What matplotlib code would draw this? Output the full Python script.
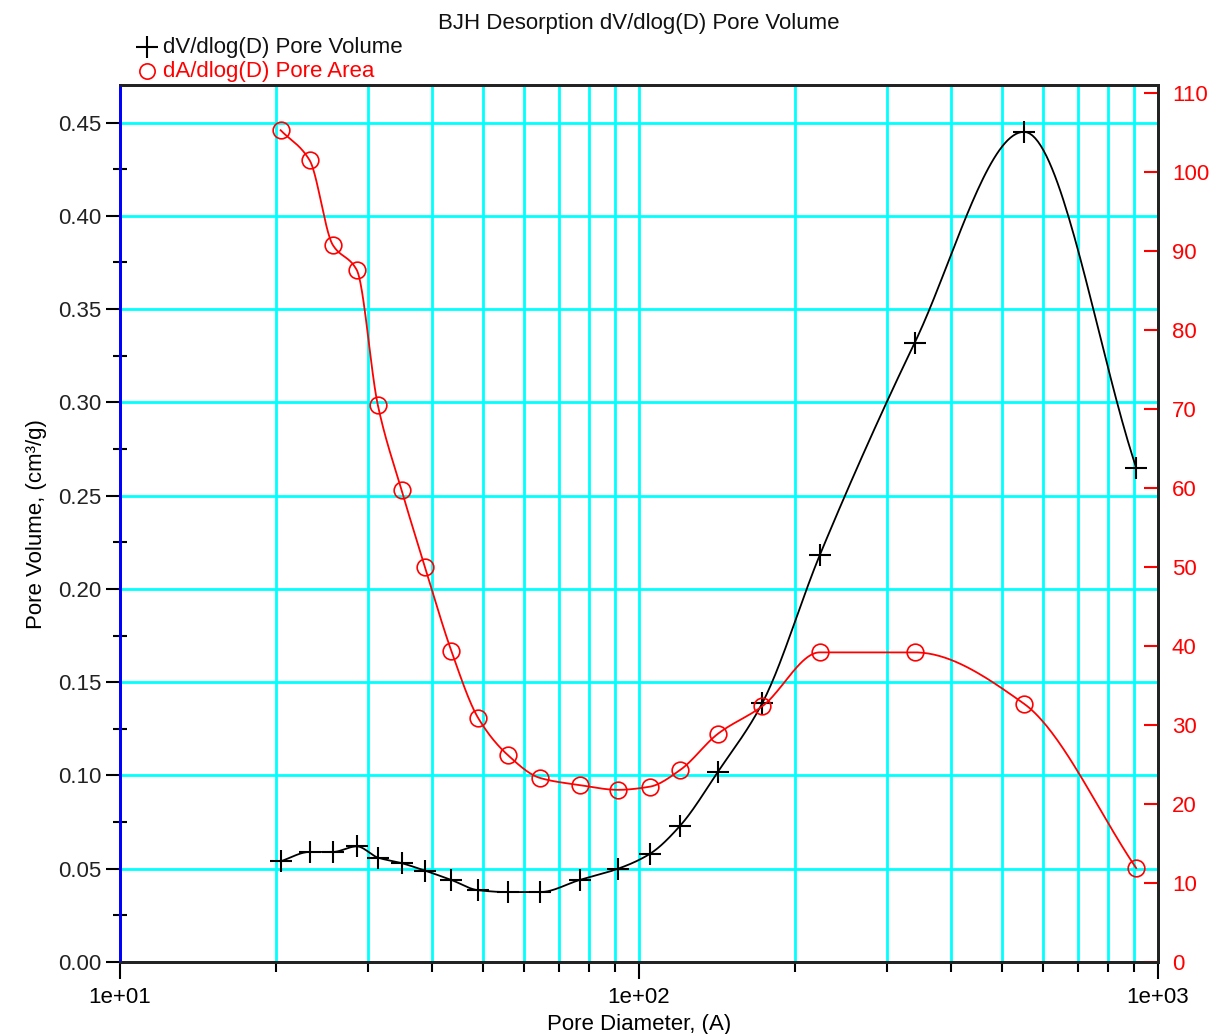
import matplotlib
matplotlib.use("Agg")
import matplotlib.pyplot as plt
import numpy as np
from matplotlib.lines import Line2D
from matplotlib.ticker import FixedLocator, NullFormatter, LogLocator

plt.rcParams["font.family"] = ["Liberation Sans", "DejaVu Sans"]

# pore diameter (A), shared by both series
diameter = [20.4, 23.2, 25.7, 28.6, 31.4, 34.9, 38.7, 43.5, 49.0, 55.9, 64.5,
            76.9, 91.1, 105, 120, 142, 173, 223, 340, 552, 908]

# dV/dlog(D) pore volume (cm3/g), left axis
pore_volume = [0.054, 0.059, 0.059, 0.062, 0.056, 0.053, 0.049, 0.044, 0.0385,
               0.0375, 0.0375, 0.044, 0.050, 0.058, 0.073, 0.102, 0.139, 0.218,
               0.332, 0.445, 0.265]

# dA/dlog(D) pore area, right axis
pore_area = [105.3, 101.5, 90.8, 87.6, 70.5, 59.7, 50.0, 39.4, 30.9, 26.2, 23.3,
             22.4, 21.8, 22.2, 24.3, 28.9, 32.4, 39.2, 39.2, 32.7, 11.9]


def pchip_curve(x, y, n=40):
    """monotone cubic line through the points, in log-x space"""
    lx = np.log10(np.asarray(x, float))
    y = np.asarray(y, float)
    h = np.diff(lx)
    d = np.diff(y) / h
    m = np.zeros_like(y)
    for k in range(1, len(y) - 1):
        if d[k - 1] * d[k] > 0:
            w1 = 2 * h[k] + h[k - 1]
            w2 = h[k] + 2 * h[k - 1]
            m[k] = (w1 + w2) / (w1 / d[k - 1] + w2 / d[k])
    m[0] = d[0]
    m[-1] = d[-1]
    xs, ys = [], []
    for k in range(len(h)):
        t = np.linspace(0, 1, n, endpoint=False)
        h00 = 2 * t**3 - 3 * t**2 + 1
        h10 = t**3 - 2 * t**2 + t
        h01 = -2 * t**3 + 3 * t**2
        h11 = t**3 - t**2
        xs.append(lx[k] + t * h[k])
        ys.append(h00 * y[k] + h10 * h[k] * m[k] + h01 * y[k + 1] + h11 * h[k] * m[k + 1])
    xs.append([lx[-1]])
    ys.append([y[-1]])
    return 10 ** np.concatenate(xs), np.concatenate(ys)


fig = plt.figure(figsize=(12.14, 10.34), dpi=100)
ax = fig.add_axes([0.0988, 0.0696, 0.855, 0.848])
ax2 = ax.twinx()

cyan = "#00ffff"
fs = 16

# 細孔容積 (黒)
cx, cy = pchip_curve(diameter, pore_volume)
ax.plot(cx, cy, color="black", linewidth=1.3, zorder=3)
ax.plot(diameter, pore_volume, linestyle="none", marker="+", markersize=16,
        markeredgewidth=1.5, color="black", zorder=4)

# 細孔面積 (赤)
rx, ry = pchip_curve(diameter, pore_area)
ax2.plot(rx, ry, color="red", linewidth=1.3, zorder=3)
ax2.plot(diameter, pore_area, linestyle="none", marker="o", markersize=12,
         markerfacecolor="none", markeredgecolor="red", markeredgewidth=1.2, zorder=4)

ax.set_xscale("log")
ax.set_xlim(10, 1000)
ax.set_ylim(0, 0.47)
ax2.set_ylim(0, 111)

# grid
ax.xaxis.set_major_locator(FixedLocator([10, 100, 1000]))
ax.xaxis.set_minor_locator(LogLocator(base=10, subs=np.arange(2, 10)))
ax.xaxis.set_minor_formatter(NullFormatter())
ax.set_xticklabels(["1e+01", "1e+02", "1e+03"])
ax.set_yticks(np.arange(0, 0.451, 0.05))
ax.set_yticklabels([f"{v:.2f}" for v in np.arange(0, 0.451, 0.05)])
ax.set_yticks(np.arange(0.025, 0.46, 0.05), minor=True)
ax.grid(True, which="both", axis="x", color=cyan, linewidth=2, zorder=0)
ax.grid(True, which="major", axis="y", color=cyan, linewidth=2, zorder=0)
ax.set_axisbelow(True)

ax.tick_params(axis="x", which="major", direction="out", length=12, width=1.5,
               labelsize=fs, colors="black", pad=6)
ax.tick_params(axis="x", which="minor", direction="out", length=7, width=1.5)
ax.tick_params(axis="y", which="major", direction="out", length=10, width=1.5,
               labelsize=fs, colors="black", labelcolor="#222222")
ax.tick_params(axis="y", which="minor", direction="inout", length=10, width=1.5)
ax.tick_params(top=False)

ax2.set_yticks(np.arange(0, 111, 10))
ax2.tick_params(axis="y", direction="in", length=10, width=1.5, colors="red",
                labelsize=fs, pad=10)

for a in (ax, ax2):
    for s in a.spines.values():
        s.set_linewidth(2)
        s.set_color("#222222")
ax2.spines["left"].set_color("blue")
ax.spines["left"].set_color("blue")

ax.set_xlabel("Pore Diameter, (A)", fontsize=fs, labelpad=4)
ax.set_ylabel("Pore Volume, (cm³/g)", fontsize=fs, labelpad=8)

# タイトルと凡例 (軸の上)
fig.text(0.5265, 1 - 24 / 1034, "BJH Desorption dV/dlog(D) Pore Volume",
         fontsize=fs, ha="center", va="center", color="#111111")
fig.add_artist(Line2D([147 / 1214], [1 - 47 / 1034], marker="+", markersize=16,
                      markeredgewidth=1.5, color="black", linestyle="none"))
fig.add_artist(Line2D([147 / 1214], [1 - 71 / 1034], marker="o", markersize=11,
                      markerfacecolor="none", markeredgecolor="red",
                      markeredgewidth=1.2, linestyle="none"))
fig.text(163 / 1214, 1 - 47 / 1034, "dV/dlog(D) Pore Volume", fontsize=fs,
         va="center", ha="left", color="#111111")
fig.text(163 / 1214, 1 - 71 / 1034, "dA/dlog(D) Pore Area", fontsize=fs,
         va="center", ha="left", color="red")

fig.savefig("out.png", dpi=100)
